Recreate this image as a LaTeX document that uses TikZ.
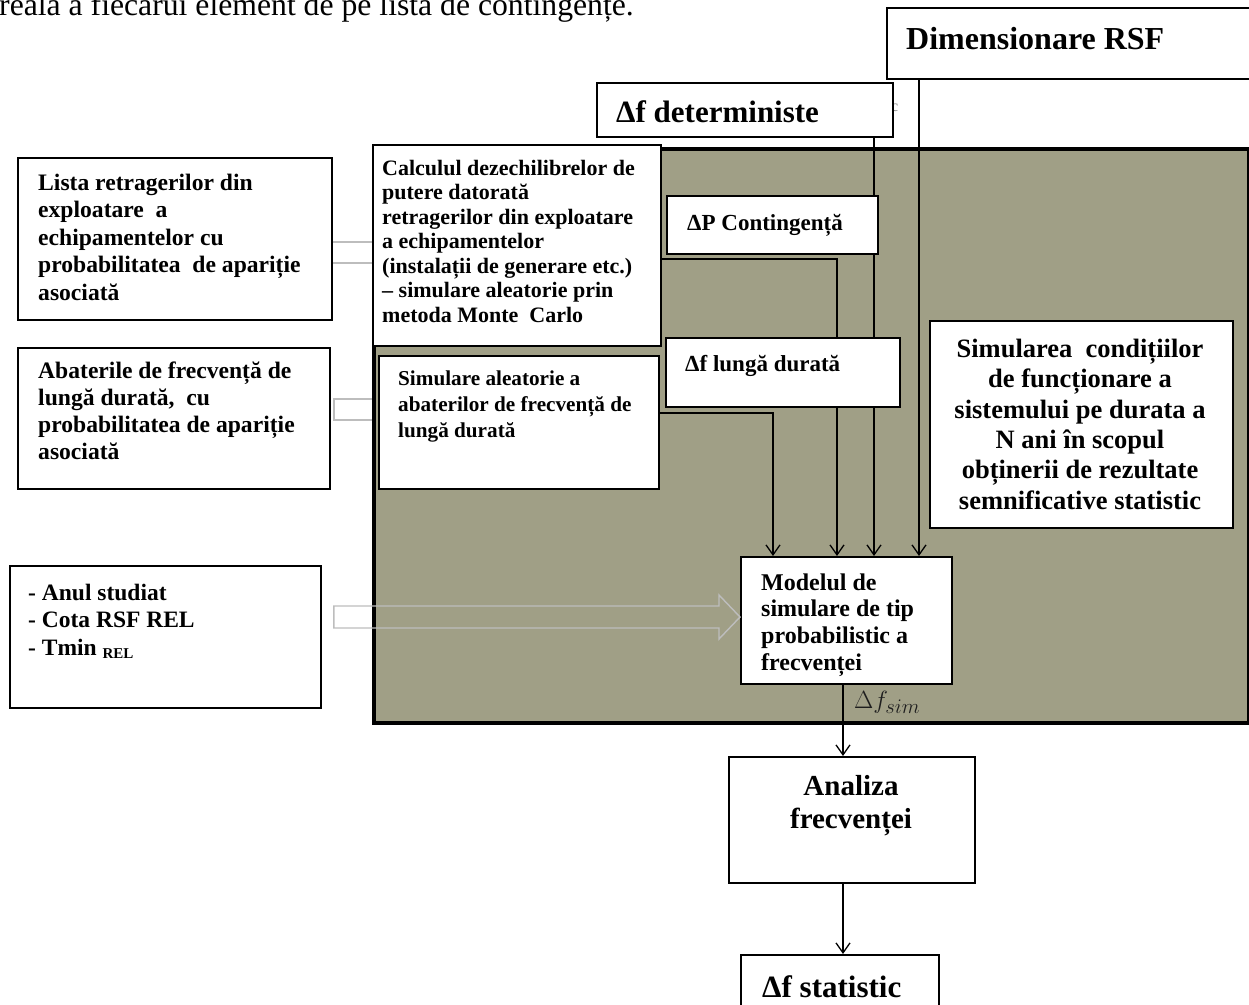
\documentclass[tikz,border=0pt]{standalone}
\usepackage{fontspec}
\setmainfont{Liberation Serif}
\usetikzlibrary{arrows.meta,calc}
\definecolor{panelc}{HTML}{A09F86}
\definecolor{grayc}{HTML}{BDBDBD}
\definecolor{simc}{HTML}{1E1E1E}
\newcommand\mystrut{\rule{0pt}{0.85em}}
\begin{document}
\begin{tikzpicture}[x=1pt,y=-1pt,
  box/.style={draw=black, line width=1.8pt, fill=white, rectangle, inner sep=0pt, anchor=north west},
  conn/.style={draw=black, line width=1.3pt, -{Straight Barb[length=10pt,width=14pt]}},
  garrow/.style={draw=grayc, line width=1.4pt},
  txt/.style={inner sep=0pt, font=\bfseries},
  fs/.style 2 args={font=\bfseries\fontsize{#1}{#2}\selectfont}]
\useasboundingbox (0,0) rectangle (1249,1004);

% top paragraph fragment
\node[anchor=base west, inner sep=0pt, font=\fontsize{31.7}{36}\selectfont] (toptext) at (-1,15) {reală a fiecărui element de pe lista de contingențe.};

% boxes outside the panel
\node[box, minimum width=314pt, minimum height=162pt] (lista) at (17,157) {};
\node[box, minimum width=312pt, minimum height=141pt] (abat) at (17,347) {};
\node[box, minimum width=311pt, minimum height=142pt] (anul) at (9,565) {};

% hollow connector abaterile -> simulare (head hidden)
\draw[garrow] ($(abat.east |- 0,399)+(48,0)$) -- ++(-45,0) -- ++(0,21) -- ++(45,0);

% panel
\node[draw=black, line width=3.5pt, fill=panelc, anchor=north west, minimum width=875pt, minimum height=574pt, inner sep=0pt] (panel) at (372,147) {};

% small fragment
\node[anchor=base west, inner sep=0pt, text=gray, font=\fontsize{16}{16}\selectfont] (cfrag) at (891,111) {c};

% boxes
\node[box, minimum width=380pt, minimum height=71pt] (dim) at (886,7) {};
\node[box, minimum width=296pt, minimum height=54pt] (det) at (596,82) {};
\node[box, minimum width=288pt, minimum height=201pt] (calc) at (372,144) {};
\node[box, minimum width=280pt, minimum height=133pt] (sim) at (378,355) {};
\node[box, minimum width=303pt, minimum height=207pt] (simN) at (929,320) {};
\node[box, minimum width=211pt, minimum height=127pt] (model) at (740,556) {};
\node[box, minimum width=246pt, minimum height=126pt] (analiza) at (728,756) {};
\node[box, minimum width=198pt, minimum height=80pt] (stat) at (740,954) {};

% gray connector lista -> calcul
\draw[garrow] (lista.east |- 0,242) -- (calc.west |- 0,242);
\draw[garrow] (lista.east |- 0,263) -- (calc.west |- 0,263);

% black connectors
\draw[conn] (sim.east |- 0,413) -| ($(model.north west)+(33,0)$);
\draw[conn] (calc.east |- 0,259) -| ($(model.north west)+(97,0)$);
\draw[conn] ($(det.south west)+(278,0)$) -- ($(model.north west)+(134,0)$);
\draw[conn] ($(dim.south west)+(33,0)$) -- ($(model.north west)+(179,0)$);
\draw[conn] ($(model.south west)+(103,0)$) coordinate (ms) -- (ms |- analiza.north);
\draw[conn] (ms |- analiza.south) -- (ms |- stat.north);

% label boxes on top of lines
\node[box, minimum width=211pt, minimum height=58pt] (dP) at (666,195) {};
\node[box, minimum width=234pt, minimum height=69pt] (dfl) at (665,337) {};

% hollow block arrow into model
\draw[garrow] ($(anul.east |- 0,606)+(12,0)$) -- ($(model.west |- 0,606)+(-21,0)$) -- ++(0,-11)
  -- (model.west |- 0,617) -- ($(model.west |- 0,639)+(-21,0)$) -- ++(0,-11)
  -- ($(anul.east |- 0,628)+(12,0)$) -- cycle;

% texts
\node[txt, fs={32}{36}, anchor=base west] (tdim) at (906,49) {Dimensionare RSF};
\node[txt, fs={31}{36}, anchor=base west] (tdet) at (616,122) {Δf deterministe};
\node[txt, fs={23.6}{27.5}, anchor=north west, align=left] (tlista) at (38,170)
  {\mystrut Lista retragerilor din\\exploatare~ a\\echipamentelor cu\\probabilitatea~ de apariție\\asociată};
\node[txt, fs={22}{24.5}, anchor=north west, align=left] (tcalc) at (382,156.3)
  {\mystrut Calculul dezechilibrelor de\\putere datorată\\retragerilor din exploatare\\a echipamentelor\\(instalații de generare etc.)\\– simulare aleatorie prin\\metoda Monte~ Carlo};
\node[txt, fs={23.6}{27}, anchor=north west, align=left] (tabat) at (38,358.4)
  {\mystrut Abaterile de frecvență de\\lungă durată,~ cu\\probabilitatea de apariție\\asociată};
\node[txt, fs={21.2}{26}, anchor=north west, align=left] (tsim) at (398,367)
  {\mystrut Simulare aleatorie a\\abaterilor de frecvență de\\lungă durată};
\node[txt, fs={23}{27}, anchor=base west] (tdP) at (687,230) {ΔP Contingență};
\node[txt, fs={23}{27}, anchor=base west] (tdfl) at (685,371) {Δf lungă durată};
\node[txt, fs={26.5}{30.4}, anchor=north, align=center] (tsimN) at (1080,334.5)
  {\mystrut Simularea~ condițiilor\\de funcționare a\\sistemului pe durata a\\N ani în scopul\\obținerii de rezultate\\semnificative statistic};
\node[txt, fs={24}{26.7}, anchor=north west, align=left] (tmodel) at (761,569.6)
  {\mystrut Modelul de\\simulare de tip\\probabilistic a\\frecvenței};
\node[txt, fs={23.5}{27.5}, anchor=north west, align=left] (tanul) at (28,580)
  {\mystrut - Anul studiat\\- Cota RSF REL\\- Tmin {\raisebox{-3pt}{\fontsize{15}{15}\selectfont REL}}};
\node[txt, fs={29}{33}, anchor=north, align=center] (tanaliza) at (851,771)
  {\mystrut Analiza\\frecvenței};
\node[txt, fs={31}{36}, anchor=base west] (tstat) at (762,997) {Δf statistic};
\node[anchor=base west, inner sep=0pt, text=simc, font=\fontsize{28}{32}\selectfont] (tsimlab) at (854,708) {$\Delta f_{sim}$};
\end{tikzpicture}
\end{document}
